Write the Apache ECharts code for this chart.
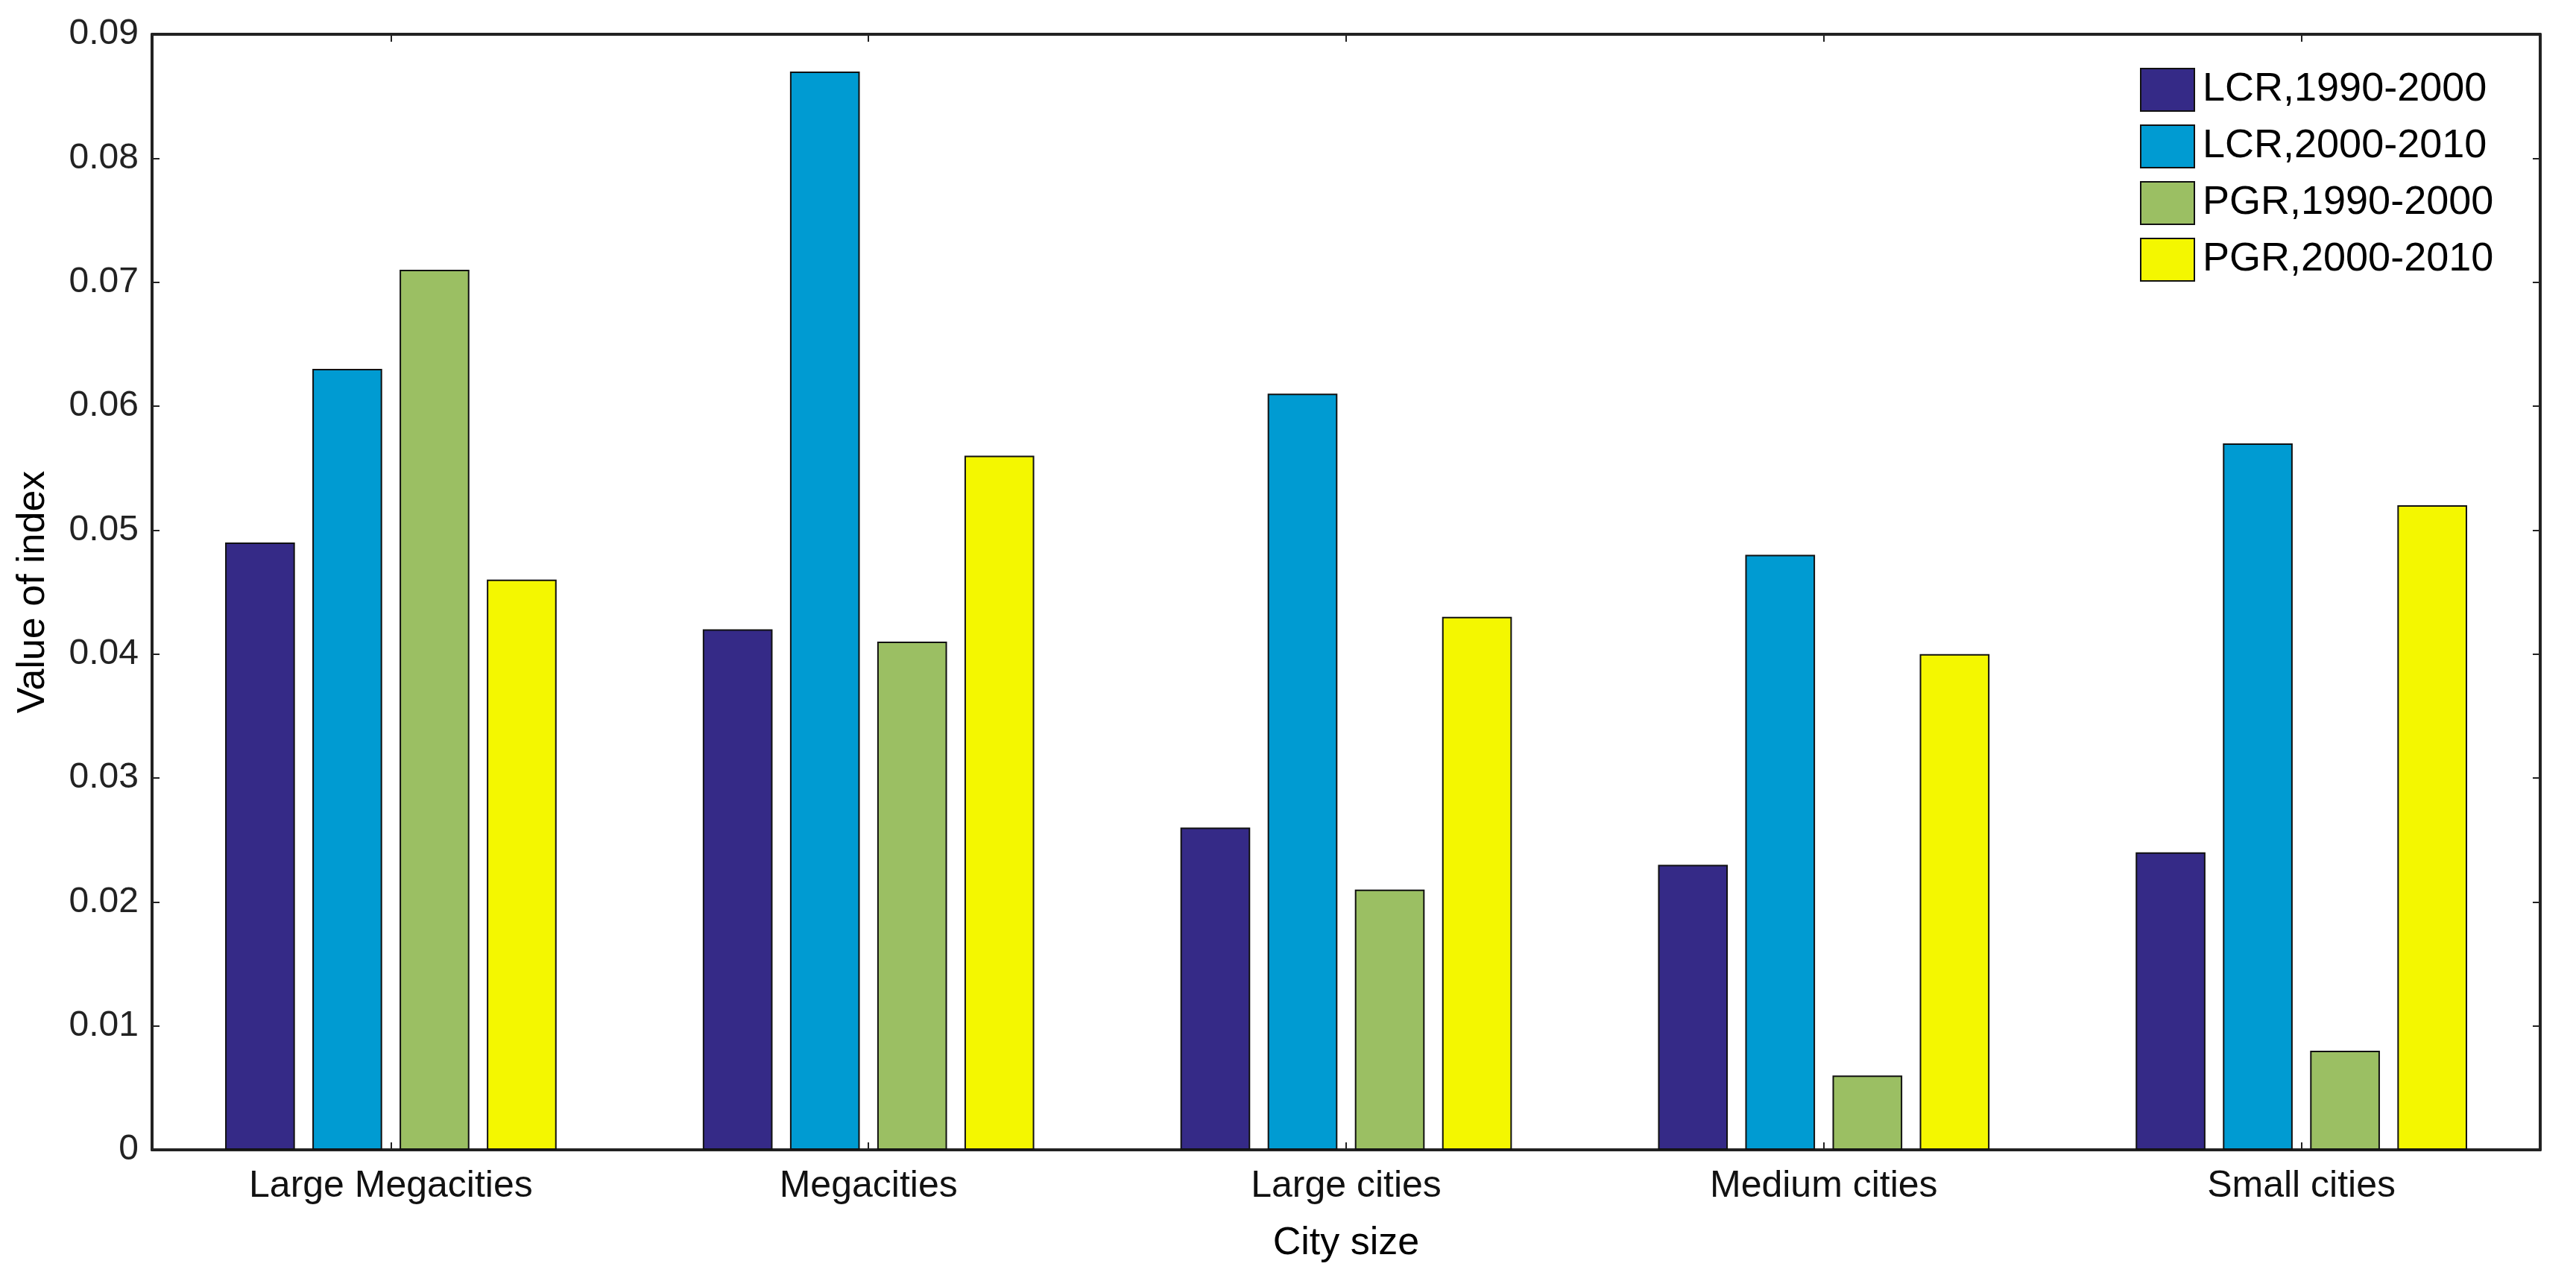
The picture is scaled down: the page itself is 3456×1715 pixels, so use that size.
<!DOCTYPE html>
<html>
<head>
<meta charset="utf-8">
<script src="https://cdn.jsdelivr.net/npm/echarts@6/dist/echarts.min.js"></script>
<style>
html,body{margin:0;padding:0;background:#fff;}
#chart{width:3456px;height:1715px;}
</style>
</head>
<body>
<div id="chart"></div>
<script>
const categories = ['Large Megacities', 'Megacities', 'Large cities', 'Medium cities', 'Small cities'];
const seriesNames = ['LCR,1990-2000', 'LCR,2000-2010', 'PGR,1990-2000', 'PGR,2000-2010'];
const lcr9000 = [0.049, 0.042, 0.026, 0.023, 0.024];
const lcr0010 = [0.063, 0.087, 0.061, 0.048, 0.057];
const pgr9000 = [0.071, 0.041, 0.021, 0.006, 0.008];
const pgr0010 = [0.046, 0.056, 0.043, 0.040, 0.052];
const yTicks = [0, 0.01, 0.02, 0.03, 0.04, 0.05, 0.06, 0.07, 0.08, 0.09];

const colors = ['#352A87', '#009BD2', '#9BBF63', '#F4F700'];
const seriesData = [lcr9000, lcr0010, pgr9000, pgr0010];
const FONT = 'Liberation Sans';

const chart = echarts.init(document.getElementById('chart'));
const axisLineStyle = {color: '#222', width: 4};
const tickStyle = {color: '#222', width: 2};
chart.setOption({
  backgroundColor: '#fff',
  animation: false,
  textStyle: {fontFamily: FONT},
  grid: {left: 204, right: 48, top: 46, bottom: 172, containLabel: false},
  legend: {
    data: seriesNames,
    orient: 'vertical',
    left: 2866,
    top: 86,
    itemWidth: 72,
    itemHeight: 57,
    itemGap: 17,
    icon: 'rect',
    itemStyle: {borderColor: '#111', borderWidth: 2},
    textStyle: {fontSize: 54, lineHeight: 57, color: '#000', fontFamily: FONT, padding: [0, 0, 0, 6]}
  },
  xAxis: [{
    type: 'category',
    data: categories,
    position: 'bottom',
    name: 'City size',
    nameLocation: 'middle',
    nameGap: 100,
    nameTextStyle: {fontSize: 52, color: '#000', fontFamily: FONT},
    axisLine: {show: true, onZero: false, lineStyle: axisLineStyle},
    axisTick: {show: true, inside: true, alignWithLabel: true, length: 10, lineStyle: tickStyle},
    axisLabel: {fontSize: 50, color: '#111', margin: 24, fontFamily: FONT},
    splitLine: {show: false}
  }, {
    type: 'category',
    data: categories,
    position: 'top',
    axisLine: {show: true, onZero: false, lineStyle: axisLineStyle},
    axisTick: {show: true, inside: true, alignWithLabel: true, length: 10, lineStyle: tickStyle},
    axisLabel: {show: false},
    splitLine: {show: false}
  }],
  yAxis: [{
    type: 'value',
    min: 0, max: 0.09, interval: 0.01,
    position: 'left',
    name: 'Value of index',
    nameLocation: 'middle',
    nameGap: 133,
    nameTextStyle: {fontSize: 52, color: '#000', fontFamily: FONT},
    axisLine: {show: true, onZero: false, lineStyle: axisLineStyle},
    axisTick: {show: true, inside: true, length: 10, lineStyle: tickStyle},
    axisLabel: {fontSize: 48, color: '#222', margin: 18, fontFamily: FONT,
      formatter: v => { const t = yTicks.find(x => Math.abs(x - v) < 1e-9); return t === 0 ? '0' : t.toFixed(2); }},
    splitLine: {show: false}
  }, {
    type: 'value',
    min: 0, max: 0.09, interval: 0.01,
    position: 'right',
    axisLine: {show: true, onZero: false, lineStyle: axisLineStyle},
    axisTick: {show: true, inside: true, length: 10, lineStyle: tickStyle},
    axisLabel: {show: false},
    splitLine: {show: false}
  }],
  series: seriesNames.map((n, i) => ({
    name: n,
    type: 'bar',
    data: seriesData[i],
    xAxisIndex: 0,
    yAxisIndex: 0,
    barGap: '25%',
    barCategoryGap: '30.6%',
    itemStyle: {color: colors[i], borderColor: '#111', borderWidth: 2}
  }))
});
</script>
</body>
</html>
